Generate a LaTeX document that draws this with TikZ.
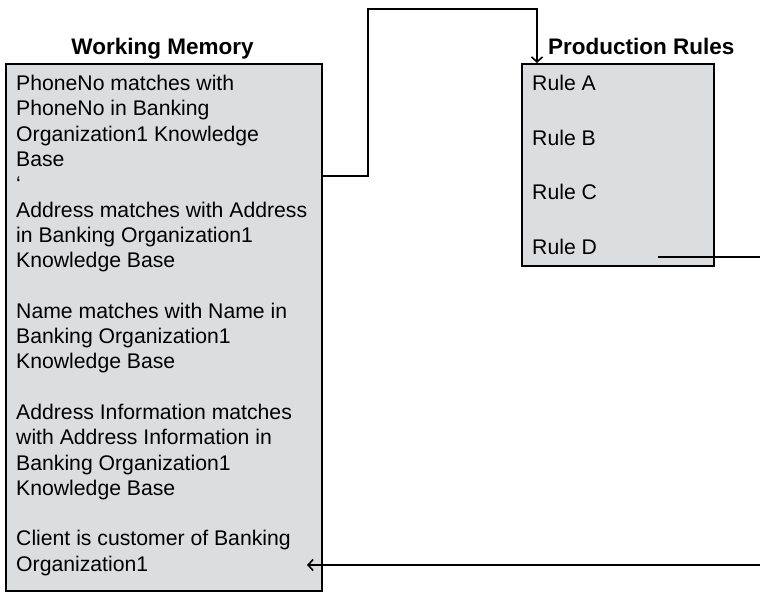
\documentclass[tikz,border=0pt]{standalone}
\usepackage{fontspec}
\usetikzlibrary{arrows.meta}
\setmainfont{Liberation Sans}
\definecolor{boxgray}{RGB}{220,221,222}

\begin{document}
\begin{tikzpicture}[x=1pt,y=1pt,
    every node/.style={inner sep=0pt},
    panel/.style={draw=black,line width=1.6pt,fill=boxgray,anchor=north west},
    flow/.style={line width=1.6pt,-{Straight Barb[length=5pt,width=11pt]}},
    title/.style={font=\fontsize{22.5}{25.3}\selectfont\bfseries},
    body/.style={font=\fontsize{21.2}{25.3}\selectfont,align=left}]
    \useasboundingbox (0,0) rectangle (760,-592);
    \node [panel,minimum width=316pt,minimum height=527pt] (wm) at (5,-63) {};
    \node [title,anchor=base] (wmtitle) at (162.5,-54) {Working Memory};
    \node [body,anchor=north west] (wmtext) at (16,-75) {PhoneNo matches with\\PhoneNo in Banking\\Organization1 Knowledge\\Base\\‘\\Address matches with Address\\in Banking Organization1\\Knowledge Base\\[25.3pt]Name matches with Name in\\Banking Organization1\\Knowledge Base\\[25.3pt]Address Information matches\\with Address Information in\\Banking Organization1\\Knowledge Base\\[25.3pt]Client is customer of Banking\\Organization1};
    \node [panel,minimum width=192pt,minimum height=202pt] (pr) at (521,-63) {};
    \node [title,anchor=base west] (prtitle) at (548,-54) {Production Rules};
    \node [body,anchor=west] (ruleA) at (532,-83) {Rule A};
    \node [body,anchor=west] (ruleB) at (532,-138) {Rule B};
    \node [body,anchor=west] (ruleC) at (532,-192) {Rule C};
    \node [body,anchor=west] (ruleD) at (532,-247) {Rule D};
    \coordinate (top) at (368,-9);
    \coordinate (dout) at (658,-257);
    \coordinate (edge) at (766,-565);
    \coordinate (wmin) at (307,-565);
    \draw [flow] ([yshift=-113pt]wm.north east) -| (top) -| ([xshift=16pt]pr.north west);
    \draw [flow] (dout) -| (edge) -- (wmin);
\end{tikzpicture}
\end{document}
